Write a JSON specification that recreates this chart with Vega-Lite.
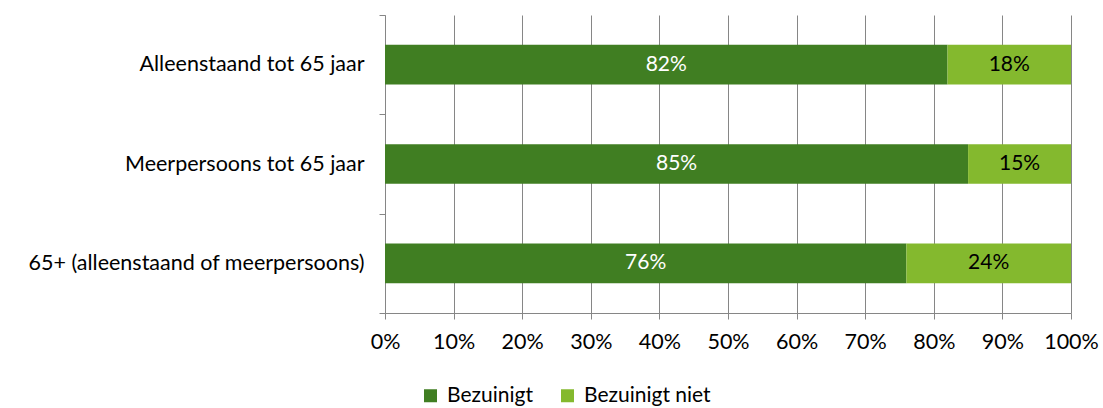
{
  "$schema": "https://vega.github.io/schema/vega-lite/v6.json",
  "width": 686,
  "height": 298,
  "autosize": {"type": "none"},
  "padding": {"left": 385, "top": 15, "right": 32, "bottom": 95},
  "background": "white",
  "config": {
    "font": "Lato",
    "view": {"stroke": null},
    "axis": {"labelFont": "Lato", "labelFontSize": 21.5, "labelColor": "#000000", "domainColor": "#868686", "tickColor": "#868686", "gridColor": "#868686", "domainWidth": 1, "tickWidth": 1, "gridWidth": 1, "tickSize": 6},
    "legend": {"labelFont": "Lato", "labelFontSize": 21, "labelColor": "#000000"}
  },
  "data": {
    "values": [
      {"groep": "Alleenstaand tot 65 jaar", "serie": "Bezuinigt", "waarde": 0.82},
      {"groep": "Alleenstaand tot 65 jaar", "serie": "Bezuinigt niet", "waarde": 0.18},
      {"groep": "Meerpersoons tot 65 jaar", "serie": "Bezuinigt", "waarde": 0.85},
      {"groep": "Meerpersoons tot 65 jaar", "serie": "Bezuinigt niet", "waarde": 0.15},
      {"groep": "65+ (alleenstaand of meerpersoons)", "serie": "Bezuinigt", "waarde": 0.76},
      {"groep": "65+ (alleenstaand of meerpersoons)", "serie": "Bezuinigt niet", "waarde": 0.24}
    ]
  },
  "encoding": {
    "y": {
      "field": "groep", "type": "nominal",
      "sort": ["Alleenstaand tot 65 jaar", "Meerpersoons tot 65 jaar", "65+ (alleenstaand of meerpersoons)"],
      "scale": {"paddingInner": 0, "paddingOuter": 0},
      "axis": {"title": null, "tickBand": "extent", "labelPadding": 15, "labelLimit": 400, "grid": false, "tickSize": 6}
    }
  },
  "layer": [
    {
      "mark": {"type": "bar", "height": {"band": 0.4}},
      "encoding": {
        "x": {
          "field": "waarde", "type": "quantitative", "stack": "zero",
          "scale": {"domain": [0, 1], "nice": false},
          "axis": {"title": null, "format": ".0%", "values": [0, 0.1, 0.2, 0.3, 0.4, 0.5, 0.6, 0.7, 0.8, 0.9, 1], "grid": true, "labelPadding": 12, "labelFlush": false}
        },
        "order": {"field": "serie", "sort": "ascending"},
        "color": {
          "field": "serie", "type": "nominal",
          "scale": {"domain": ["Bezuinigt", "Bezuinigt niet"], "range": ["#407e22", "#84b92e"]},
          "legend": {"title": null, "orient": "none", "legendX": 35, "legendY": 370, "direction": "horizontal", "symbolType": "square", "symbolSize": 169, "symbolStrokeWidth": 0, "symbolOpacity": 1, "columnPadding": 24, "labelOffset": 6}
        }
      }
    },
    {
      "mark": {"type": "text", "font": "Lato", "fontSize": 21, "align": "center", "baseline": "middle"},
      "encoding": {
        "x": {"field": "waarde", "type": "quantitative", "stack": "zero", "bandPosition": 0.5},
        "order": {"field": "serie", "sort": "ascending"},
        "detail": {"field": "serie", "type": "nominal"},
        "text": {"field": "waarde", "type": "quantitative", "format": ".0%"},
        "color": {"condition": {"test": "datum.serie === 'Bezuinigt'", "value": "#ffffff"}, "value": "#000000"}
      }
    }
  ]
}
